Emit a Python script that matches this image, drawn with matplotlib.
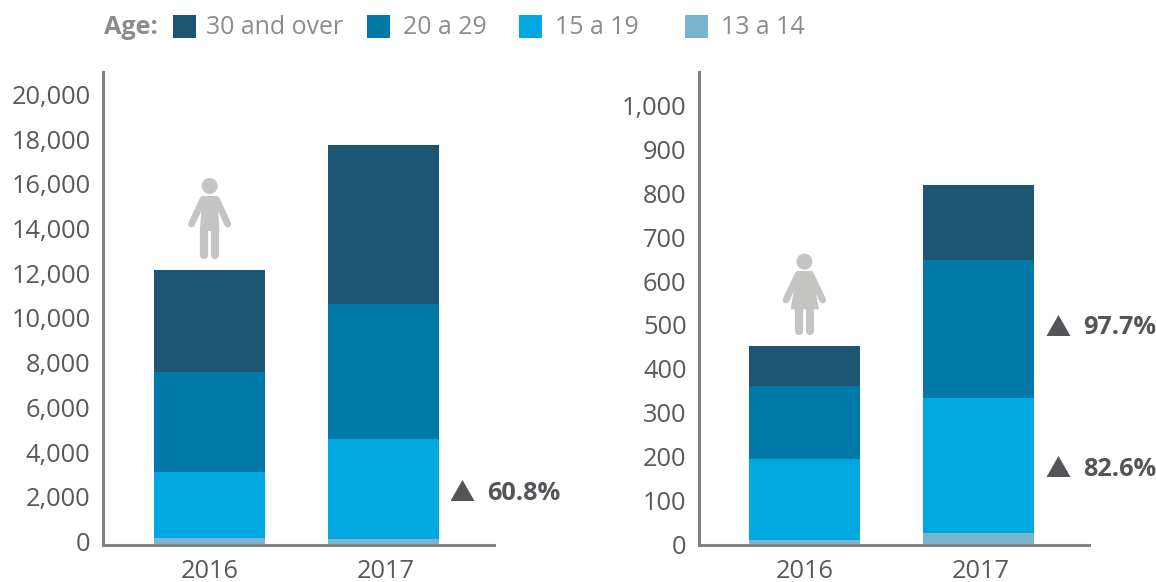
import matplotlib
matplotlib.use("Agg")
import matplotlib.pyplot as plt
from matplotlib.patches import Rectangle, Circle, Polygon
from matplotlib.lines import Line2D
from matplotlib.transforms import Affine2D, ScaledTranslation

plt.rcParams['font.family'] = ['Open Sans', 'DejaVu Sans']

W, H = 1156, 582
years = ['2016', '2017']
ages = ['13 a 14', '15 a 19', '20 a 29', '30 and over']
colors = ['#7ab5d0', '#00a8e1', '#0079a8', '#1d5675']
men = {'13 a 14': [270, 220], '15 a 19': [2950, 4480], '20 a 29': [4480, 6040], '30 and over': [4560, 7110]}
women = {'13 a 14': [10, 25], '15 a 19': [184, 308], '20 a 29': [167, 315], '30 and over': [91, 172]}
men_ticks = list(range(0, 20001, 2000))
women_ticks = list(range(0, 1001, 100))
men_notes = [(491, '60.8%')]
women_notes = [(326, '97.7%'), (467, '82.6%')]

TICK = '#58595b'
AXIS = '#808285'
LEG = '#8a8c8e'
ICON = '#c4c4c3'
NOTE = '#545459'

fig = plt.figure(figsize=(W / 100, H / 100), dpi=100)
px = Affine2D().scale(1, -1).translate(0, H)  # pixel coords, top-left origin


def make_axes(x0, x1, top, base, ymax, ticks, data, label_shift, bar_x):
    ax = fig.add_axes([x0 / W, 1 - base / H, (x1 - x0) / W, (base - top) / H])
    bottom = [0, 0]
    for age, c in zip(ages, colors):
        ax.bar([0, 1], data[age], width=0.638, bottom=bottom, color=c, linewidth=0, zorder=2)
        bottom = [b + v for b, v in zip(bottom, data[age])]
    for s in ['top', 'right']:
        ax.spines[s].set_visible(False)
    for s in ['left', 'bottom']:
        ax.spines[s].set_color(AXIS)
        ax.spines[s].set_linewidth(2.2)
    ax.spines['bottom'].set_position(('outward', 0.7))
    ax.set_ylim(0, ymax)
    ax.set_xlim(-(bar_x - x0) / 174, (x1 - bar_x) / 174)
    ax.set_xticks([0, 1], years)
    ax.set_yticks(ticks, [f'{t:,}' for t in ticks])
    ax.tick_params(axis='both', length=0, labelsize=18.3, labelcolor=TICK)
    ax.tick_params(axis='y', pad=9)
    ax.tick_params(axis='x', pad=10.3)
    off = ScaledTranslation(0, label_shift / 100, fig.dpi_scale_trans)
    for t in ax.get_yticklabels():
        t.set_transform(t.get_transform() + off)
    off_x = ScaledTranslation(2 / 100, 0, fig.dpi_scale_trans)
    xl = ax.get_xticklabels()[1]
    xl.set_transform(xl.get_transform() + off_x)
    ax.patch.set_alpha(0)
    return ax


make_axes(103, 494, 72, 544, 21118, men_ticks, men, 2.5, 209.5)
make_axes(699, 1089, 72, 544, 1077.6, women_ticks, women, 0, 804.5)


def rect(x, y, w, h, c):
    fig.add_artist(Rectangle((x, y), w, h, transform=px, color=c, linewidth=0))


def poly(pts, c):
    fig.add_artist(Polygon(pts, closed=True, transform=px, color=c, linewidth=0))


def stroke(xs, ys, lw, c=ICON):
    fig.add_artist(Line2D(xs, ys, transform=px, color=c, linewidth=lw * 0.72,
                          solid_capstyle='round'))


def text(x, y, s, **kw):
    fig.text(x / W, 1 - y / H, s, va='center', **kw)


# legend
text(104, 28, 'Age:', color=LEG, fontsize=18.2, fontweight='bold')
for x, tx, age, c in [(173, 206, '30 and over', colors[3]), (367, 403, '20 a 29', colors[2]),
                      (519, 555, '15 a 19', colors[1]), (685, 721, '13 a 14', colors[0])]:
    rect(x, 15, 23, 23, c)
    text(tx, 28, age, color=LEG, fontsize=17.9)

# change notes
for tx, y_list in [(487.5, men_notes), (1083.5, women_notes)]:
    for y, s in y_list:
        cx = tx - 25
        poly([(cx - 12, y + 10), (cx + 12, y + 10), (cx, y - 11)], NOTE)
        text(tx, y + 2, s, color=NOTE, fontsize=18.2, fontweight='bold')

# man icon
fig.add_artist(Circle((209.7, 186), 8, transform=px, color=ICON, linewidth=0))
poly([(202, 196), (217.5, 196), (219.3, 231), (200, 231)], ICON)
stroke([203, 191.5], [199.5, 224], 6.8)
stroke([216.5, 227.7], [199.5, 224], 6.8)
stroke([204.2, 204.2], [228, 255], 8.2)
stroke([215.2, 215.2], [228, 255], 8.2)

# woman icon
fig.add_artist(Circle((804.4, 261.7), 8, transform=px, color=ICON, linewidth=0))
poly([(797, 271), (811.5, 271), (819, 309.3), (790.7, 309.3)], ICON)
stroke([798, 786], [274.5, 300], 6.8)
stroke([810.5, 822.7], [274.5, 300], 6.8)
stroke([799.2, 799.2], [305, 331], 8.2)
stroke([810, 810], [305, 331], 8.2)

fig.savefig('out.png', dpi=100)
